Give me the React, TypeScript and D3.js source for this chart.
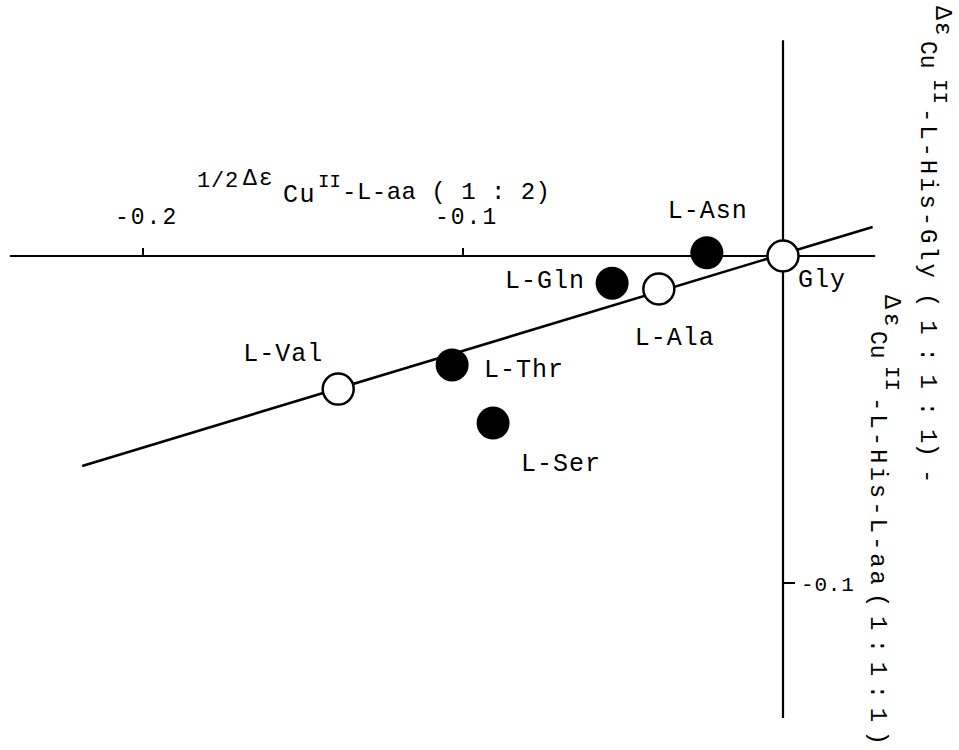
import React from 'react';
import * as d3 from 'd3';

// ---- data ----
const aminoAcids = ['Gly', 'L-Asn', 'L-Ala', 'L-Gln', 'L-Thr', 'L-Ser', 'L-Val'];
const xValues = [0, -0.0238, -0.0388, -0.0534, -0.1034, -0.0906, -0.139];
const yValues = [0, 0.001, -0.0101, -0.0083, -0.0333, -0.0511, -0.0407];
const filledMarker = [false, true, false, true, true, true, false];
const xTicks = [-0.2, -0.1];
const xTickLabels = ['-0.2', '-0.1'];
const yTicks = [-0.1];
const yTickLabels = ['-0.1'];
const fitX = [-0.219, 0.028];
const fitY = [-0.0642, 0.0089];
const xAxisExtent = [-0.2416, 0.0288];
const yAxisExtent = [0.066, -0.1413];

const FONT = "'Liberation Mono', 'DejaVu Sans Mono', monospace";

// label placement (pixel offsets from the point)
const labelOffset: Record<string, [number, number]> = {
  'Gly': [15, 31],
  'L-Asn': [-39, -35],
  'L-Ala': [-24, 56],
  'L-Gln': [-107, 5],
  'L-Thr': [32, 12],
  'L-Ser': [28, 48],
  'L-Val': [-95, -28],
};

export default function App() {
  const W = 959, H = 750;
  const x = d3.scaleLinear().domain([-0.2, 0]).range([143, 783]);
  const y = d3.scaleLinear().domain([0, -0.1]).range([256, 583]);

  const fitLine = d3.line<number>()
    .x((_, i) => x(fitX[i]))
    .y((_, i) => y(fitY[i]));

  const x0 = x(0), y0 = y(0);

  return (
    <svg width={W} height={H} style={{ position: 'absolute', left: 0, top: 0, background: '#fff' }}
      fontFamily={FONT}>
      <rect x={0} y={0} width={W} height={H} fill="#fff" />
      {/* horizontal axis */}
      <line x1={x(xAxisExtent[0])} x2={x(xAxisExtent[1])} y1={y0} y2={y0} stroke="#000" strokeWidth={2.2} />
      {/* vertical axis */}
      <line x1={x0} x2={x0} y1={y(yAxisExtent[0])} y2={y(yAxisExtent[1])} stroke="#000" strokeWidth={2.2} />
      {xTicks.map((t, i) => (
        <g key={'xt' + i}>
          <line x1={x(t)} x2={x(t)} y1={y0} y2={y0 - 8} stroke="#000" strokeWidth={2} />
          <text x={x(t) - 28} y={224} fontSize={23} letterSpacing={2} fill="#000">{xTickLabels[i]}</text>
        </g>
      ))}
      {yTicks.map((t, i) => (
        <g key={'yt' + i}>
          <line x1={x0} x2={x0 + 12} y1={y(t)} y2={y(t)} stroke="#000" strokeWidth={2} />
          <text x={x0 + 18} y={y(t) + 8} fontSize={21} letterSpacing={0.8} fill="#000">{yTickLabels[i]}</text>
        </g>
      ))}
      {/* fitted line */}
      <path d={fitLine([0, 1]) || ''} fill="none" stroke="#000" strokeWidth={2.6} />
      {/* points */}
      {aminoAcids.map((name, i) => (
        <circle key={name} cx={x(xValues[i])} cy={y(yValues[i])} r={filledMarker[i] ? 16.5 : 15.5}
          fill={filledMarker[i] ? '#000' : '#fff'} stroke="#000" strokeWidth={filledMarker[i] ? 0 : 2.5} />
      ))}
      {aminoAcids.map((name, i) => (
        <text key={'l' + name} x={x(xValues[i]) + labelOffset[name][0]} y={y(yValues[i]) + labelOffset[name][1]}
          fontSize={25} letterSpacing={1} fill="#000">{name}</text>
      ))}
      {/* x-axis title */}
      <g fill="#000">
        <text x={197} y={187} fontSize={22} letterSpacing={0.8}>1/2</text>
        <text x={243} y={185} fontSize={23} letterSpacing={2}>Δε</text>
        <text x={283} y={202} fontSize={25} letterSpacing={1.5}>Cu</text>
        <text x={318} y={187} fontSize={19}>II</text>
        <text x={342} y={199} fontSize={24} textLength={208} lengthAdjust="spacing">-L-aa ( 1 : 2)</text>
      </g>
      {/* right vertical title, line 1 */}
      <g transform="translate(921,0) rotate(90)" fill="#000">
        <text x={6} y={-15} fontSize={23} letterSpacing={2}>Δε</text>
        <text x={41} y={0} fontSize={23}>Cu</text>
        <text x={79} y={-13} fontSize={21}>II</text>
        <text x={108} y={0} fontSize={24} textLength={170} lengthAdjust="spacing">-L-His-Gly</text>
        <text x={293} y={0} fontSize={24} textLength={164} lengthAdjust="spacing">( 1 : 1 : 1)</text>
        <text x={469} y={0} fontSize={24}>-</text>
      </g>
      {/* right vertical title, line 2 */}
      <g transform="translate(871,0) rotate(90)" fill="#000">
        <text x={295} y={-14} fontSize={23} letterSpacing={4}>Δε</text>
        <text x={331} y={0} fontSize={23}>Cu</text>
        <text x={366} y={-15} fontSize={21}>II</text>
        <text x={397} y={0} fontSize={24} textLength={188} lengthAdjust="spacing">-L-His-L-aa</text>
        <text x={593} y={0} fontSize={24} textLength={152} lengthAdjust="spacing">( 1 : 1 : 1 )</text>
      </g>
    </svg>
  );
}
